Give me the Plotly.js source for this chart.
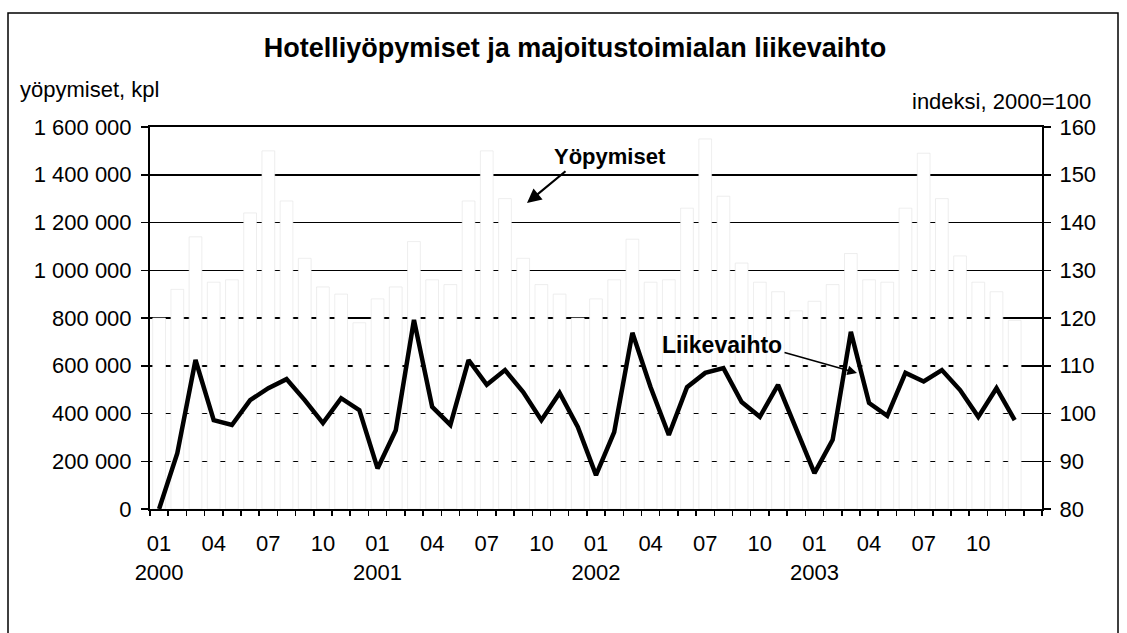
<!DOCTYPE html>
<html>
<head>
<meta charset="utf-8">
<script src="https://cdn.plot.ly/plotly-3.0.1.min.js"></script>
<style>html,body{margin:0;padding:0;background:#fff;}#chart{width:1127px;height:633px;}</style>
</head>
<body>
<div id="chart"></div>
<script>
// Categories: months Jan 2000 .. Dec 2003, plus one empty slot at the end
const categories = [
  "2000-01","2000-02","2000-03","2000-04","2000-05","2000-06","2000-07","2000-08","2000-09","2000-10","2000-11","2000-12",
  "2001-01","2001-02","2001-03","2001-04","2001-05","2001-06","2001-07","2001-08","2001-09","2001-10","2001-11","2001-12",
  "2002-01","2002-02","2002-03","2002-04","2002-05","2002-06","2002-07","2002-08","2002-09","2002-10","2002-11","2002-12",
  "2003-01","2003-02","2003-03","2003-04","2003-05","2003-06","2003-07","2003-08","2003-09","2003-10","2003-11","2003-12",
  "2004-01"
];
const tickLabels = [
  "01<br>2000","","","04","","","07","","","10","","",
  "01<br>2001","","","04","","","07","","","10","","",
  "01<br>2002","","","04","","","07","","","10","","",
  "01<br>2003","","","04","","","07","","","10","","",
  ""
];
// Hotel overnight stays (left axis)
const yopymiset = [
  800000, 920000, 1140000, 950000, 960000, 1240000, 1500000, 1290000, 1050000, 930000, 900000, 780000,
  880000, 930000, 1120000, 960000, 940000, 1290000, 1500000, 1300000, 1050000, 940000, 900000, 800000,
  880000, 960000, 1130000, 950000, 960000, 1260000, 1550000, 1310000, 1030000, 950000, 910000, 830000,
  870000, 940000, 1070000, 960000, 950000, 1260000, 1490000, 1300000, 1060000, 950000, 910000, 790000,
  null
];
// Turnover index 2000=100 (right axis)
const liikevaihto = [
  80.0, 91.7, 111.2, 98.6, 97.6, 102.8, 105.3, 107.2, 102.8, 98.0, 103.2, 100.7,
  88.5, 96.5, 119.6, 101.4, 97.6, 111.2, 106.0, 109.1, 104.5, 98.6, 104.3, 97.2,
  87.1, 96.1, 116.9, 105.5, 95.5, 105.5, 108.5, 109.5, 102.4, 99.3, 106.0, 96.5,
  87.5, 94.5, 117.1, 102.2, 99.5, 108.5, 106.7, 109.1, 104.9, 99.3, 105.3, 98.6,
  null
];

const FONT = "Liberation Sans, Arial, sans-serif";
const FS = 22;

const traces = [
  {
    type: "bar", name: "Yöpymiset", x: categories, y: yopymiset, yaxis: "y",
    marker: {color: "#ffffff", line: {color: "#e2e2e2", width: 0.6}},
    hoverinfo: "x+y"
  },
  {
    type: "scatter", mode: "lines", name: "Liikevaihto", x: categories, y: liikevaihto, yaxis: "y2",
    line: {color: "#000000", width: 4.5}, connectgaps: false
  }
];

const layout = {
  width: 1127, height: 633,
  margin: {l: 150, r: 85, t: 127, b: 124},
  paper_bgcolor: "#ffffff", plot_bgcolor: "#ffffff",
  font: {family: FONT, size: FS, color: "#000"},
  separators: ", ",
  showlegend: false,
  bargap: 0.3,
  title: {
    text: "<b>Hotelliyöpymiset ja majoitustoimialan liikevaihto</b>",
    font: {family: FONT, size: 27, color: "#000"},
    x: 575/1127, xanchor: "center", xref: "container",
    y: 1 - 48/633, yanchor: "middle", yref: "container"
  },
  xaxis: {
    type: "category",
    tickmode: "array", tickvals: categories, ticktext: tickLabels,
    tickson: "boundaries", ticks: "outside", ticklen: 5, tickwidth: 1.5, tickcolor: "#000",
    ticklabelstandoff: 14,
    showline: true, linecolor: "#000", linewidth: 2, mirror: true,
    showgrid: false, tickangle: 0,
    tickfont: {family: FONT, size: FS, color: "#000"}
  },
  yaxis: {
    range: [0, 1600000], tickmode: "linear", tick0: 0, dtick: 200000,
    tickformat: ",d",
    showline: true, linecolor: "#000", linewidth: 2,
    ticks: "outside", ticklen: 7, tickwidth: 1.5, tickcolor: "#000",
    ticklabelstandoff: 5,
    showgrid: true, gridcolor: "#000", gridwidth: 1.5,
    zeroline: false,
    tickfont: {family: FONT, size: FS, color: "#000"}
  },
  yaxis2: {
    range: [80, 160], tickmode: "linear", tick0: 80, dtick: 10,
    overlaying: "y", side: "right",
    showline: true, linecolor: "#000", linewidth: 2,
    ticks: "outside", ticklen: 7, tickwidth: 1.5, tickcolor: "#000",
    ticklabelstandoff: 4,
    showgrid: false, zeroline: false,
    tickfont: {family: FONT, size: FS, color: "#000"}
  },
  shapes: [
    {type: "rect", xref: "paper", yref: "paper",
     x0: (8-150)/892, x1: (1118-150)/892, y0: (509-700)/382, y1: (509-13)/382,
     line: {color: "#000", width: 1.5}, fillcolor: "rgba(0,0,0,0)", layer: "below"}
  ],
  annotations: [
    {text: "yöpymiset, kpl", xref: "paper", yref: "paper",
     x: (18-150)/892, y: (509-89)/382, xanchor: "left", yanchor: "middle",
     showarrow: false, font: {family: FONT, size: FS, color: "#000"}},
    {text: "indeksi, 2000=100", xref: "paper", yref: "paper",
     x: (1093-150)/892, y: (509-101)/382, xanchor: "right", yanchor: "middle",
     showarrow: false, font: {family: FONT, size: FS, color: "#000"}},
    {text: "<b>Yöpymiset</b>", xref: "paper", yref: "paper",
     x: (610-150)/892, y: (509-156)/382, xanchor: "center", yanchor: "middle",
     showarrow: false, font: {family: FONT, size: 22, color: "#000"}},
    {text: "", xref: "paper", yref: "paper",
     x: (527-150)/892, y: (509-203)/382, ax: 40, ay: -33,
     showarrow: true, arrowhead: 2, arrowsize: 1.3, arrowwidth: 2.2, arrowcolor: "#000", standoff: 0},
    {text: "<b>Liikevaihto</b>", xref: "paper", yref: "paper",
     x: (722-150)/892, y: (509-345)/382, xanchor: "center", yanchor: "middle",
     showarrow: false, font: {family: FONT, size: 23, color: "#000"}},
    {text: "", xref: "paper", yref: "paper",
     x: (857-150)/892, y: (509-373)/382, ax: -74, ay: -21,
     showarrow: true, arrowhead: 2, arrowsize: 1.2, arrowwidth: 1.6, arrowcolor: "#000", standoff: 0}
  ]
};

Plotly.newPlot("chart", traces, layout, {displayModeBar: false, staticPlot: true});
</script>
</body>
</html>
